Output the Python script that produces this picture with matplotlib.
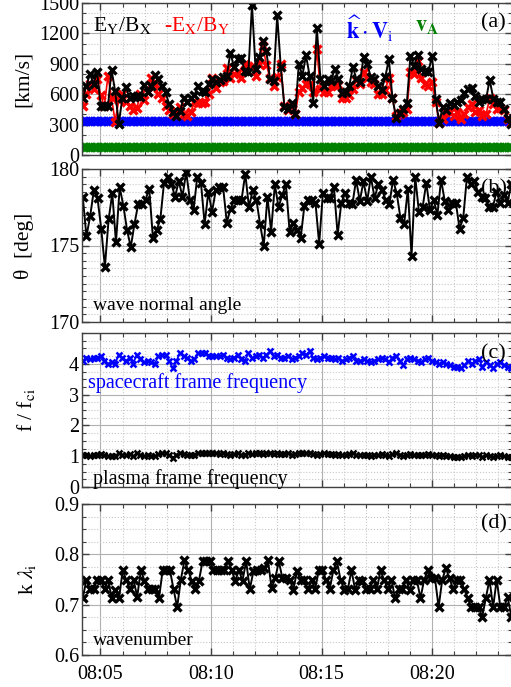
import matplotlib
matplotlib.use("Agg")
import matplotlib.pyplot as plt
import matplotlib.dates as mdates
import numpy as np
from datetime import datetime, timedelta

plt.rcParams['font.family'] = ['Liberation Serif', 'DejaVu Serif']
plt.rcParams['mathtext.fontset'] = 'stix'

# time range of the event (arbitrary day)
t_start = datetime(2017, 1, 1, 8, 4, 12)
t_end = datetime(2017, 1, 1, 8, 23, 35)
x_min = datetime(2017, 1, 1, 8, 4, 10)
x_max = datetime(2017, 1, 1, 8, 23, 37)

# panel (a): phase speeds [km/s]
ey_bx = [560, 680, 800, 700, 820, 480, 480, 480, 840, 630,
         310, 560, 670, 560, 580, 580, 570, 690, 620, 680,
         790, 750, 680, 620, 500, 420, 380, 430, 560, 520,
         560, 590, 680, 630, 620, 700, 750, 720, 740, 770,
         780, 1010, 870, 950, 960, 830, 820, 1480,
         850, 967, 1123, 1023, 750, 733, 1377, 867, 477, 450,
         517, 400, 900, 783, 983, 783, 517, 1257, 750, 677,
         750, 733, 850, 750, 610, 617, 677, 867, 750, 723,
         967, 900, 767, 750, 683, 643, 767, 943, 567, 367,
         417, 450, 510, 977, 883, 983, 850, 833, 823, 977,
         557, 317, 477, 443, 510, 490, 523, 543, 610, 650,
         657, 583, 523, 550, 550, 743, 557, 523, 523, 450,
         367, 310]
ex_by = [480, 600, 700, 650, 750, 590, 480, 780, 560, 330,
         540, 600, 520, 480, 440, 460, 600, 540, 620, 760,
         700, 600, 560, 480, 440, 400, 430, 470, 400, 380,
         420, 520, 510, 510, 520, 600, 760, 660, 720, 730,
         860, 760, 800, 820, 760, 900, 880, 870,
         780, 900, 1080, 890, 760, 680, 770, 900, 480, 440,
         500, 400, 620, 660, 700, 700, 620, 1050, 650, 620,
         620, 680, 690, 690, 560, 560, 590, 650, 740, 700,
         820, 760, 720, 700, 600, 600, 640, 760, 560, 380,
         400, 420, 450, 820, 800, 930, 760, 700, 680, 720,
         520, 320, 360, 420, 420, 380, 420, 360, 400, 470,
         500, 420, 440, 380, 400, 560, 500, 450, 460, 440,
         360, 320]
k_vi = 340.0
v_a = 75.0

# panel (b): wave normal angle [deg]
theta = [178.2, 175.6, 176.9, 178.6, 178.1, 176.1, 173.6, 176.7, 178.4, 175.2,
         178.8, 177.6, 176.0, 174.9, 176.4, 177.7, 177.7, 178.0, 178.7, 175.5,
         176.0, 176.7, 179.1, 179.5, 179.0, 178.2, 179.2, 178.2, 179.8, 178.0,
         177.3, 179.5, 179.1, 176.4, 178.5, 177.2, 178.6, 178.8, 178.8, 176.5,
         177.4, 178.0, 178.0, 178.0, 179.7, 177.5, 178.6, 178.0, 176.4,
         175.0, 178.2, 175.9, 179.0, 177.5, 178.3, 179.0, 175.9, 176.5, 176.0,
         175.5, 177.6, 178.0, 178.0, 177.8, 175.1, 178.4, 178.1, 178.1, 178.8,
         175.7, 177.8, 178.4, 177.8, 177.7, 179.3, 177.9, 179.2, 177.9, 179.5,
         178.1, 179.0, 178.6, 178.0, 177.7, 179.3, 178.4, 176.8, 176.4, 178.7,
         174.3, 179.5, 177.2, 177.5, 179.1, 177.3, 178.0, 177.0, 179.3, 177.9,
         177.3, 177.8, 177.8, 176.1, 176.8, 179.5, 179.0, 179.2, 178.5, 178.2,
         178.1, 177.5, 177.5, 178.5, 177.8, 178.3, 177.8, 179.0]

# panel (c): frequencies normalised to f_ci
f_sc = [4.10, 4.20, 4.15, 4.20, 4.20, 4.25, 4.10, 4.00, 4.05, 4.00,
        4.30, 4.20, 4.10, 4.20, 4.00, 4.30, 4.15, 4.05, 4.10, 4.05,
        4.00, 4.25, 4.30, 4.30, 4.10, 3.85, 4.10, 4.35, 4.25, 4.20,
        4.10, 4.15, 4.35, 4.35, 4.35, 4.25, 4.25, 4.25, 4.25, 4.30,
        4.20, 4.15, 4.20, 4.30, 4.15, 4.10, 4.35, 4.20, 4.25,
        4.30, 4.20, 4.30, 4.40, 4.25, 4.30, 4.20, 4.20, 4.25, 4.15,
        4.20, 4.25, 4.35, 4.30, 4.40, 4.20, 4.15, 4.20, 4.25, 4.20,
        4.20, 4.15, 4.20, 4.10, 4.15, 4.20, 4.25, 4.10, 4.10, 4.15,
        4.10, 4.05, 4.10, 4.15, 4.20, 4.15, 4.05, 4.20, 4.25, 4.10,
        3.95, 4.15, 4.20, 4.15, 4.10, 4.05, 4.15, 4.20, 4.10, 4.05,
        4.00, 4.05, 4.00, 3.95, 3.90, 3.90, 3.85, 3.95, 4.10, 4.00,
        4.10, 4.15, 3.90, 4.05, 3.95, 3.85, 4.00, 4.05, 3.95, 3.90,
        3.85]
f_pl = [1.05, 1.05, 1.02, 1.05, 1.05, 1.08, 1.03, 1.00, 1.02, 1.00,
        1.10, 1.05, 1.05, 1.08, 1.00, 1.10, 1.05, 1.02, 1.03, 1.02,
        1.00, 1.08, 1.10, 1.10, 1.03, 0.95, 1.05, 1.12, 1.08, 1.05,
        1.03, 1.05, 1.12, 1.12, 1.12, 1.10, 1.10, 1.10, 1.08, 1.10,
        1.08, 1.05, 1.08, 1.12, 1.05, 1.05, 1.12, 1.08, 1.10,
        1.10, 1.08, 1.10, 1.12, 1.08, 1.10, 1.08, 1.08, 1.10, 1.05,
        1.08, 1.10, 1.12, 1.10, 1.12, 1.08, 1.05, 1.08, 1.10, 1.08,
        1.08, 1.05, 1.08, 1.05, 1.05, 1.08, 1.10, 1.05, 1.05, 1.05,
        1.05, 1.02, 1.05, 1.05, 1.08, 1.05, 1.02, 1.08, 1.10, 1.05,
        1.00, 1.05, 1.08, 1.05, 1.05, 1.03, 1.05, 1.08, 1.05, 1.03,
        1.02, 1.03, 1.02, 1.00, 0.98, 0.98, 0.97, 1.00, 1.05, 1.02,
        1.05, 1.05, 0.98, 1.03, 1.00, 0.98, 1.02, 1.03, 1.00, 0.98,
        0.97]

# panel (d): wavenumber k*lambda_i
k_lam = [0.713, 0.749, 0.731, 0.731, 0.749, 0.749, 0.731, 0.749, 0.713, 0.730,
         0.713, 0.768, 0.749, 0.731, 0.749, 0.716, 0.768, 0.748, 0.731, 0.731,
         0.731, 0.713, 0.768, 0.769, 0.769, 0.731, 0.695, 0.749, 0.788, 0.769,
         0.748, 0.731, 0.748, 0.786, 0.786, 0.786, 0.768, 0.768, 0.768, 0.768,
         0.786, 0.768, 0.748, 0.768, 0.748, 0.786, 0.731, 0.766,
         0.769, 0.769, 0.772, 0.788, 0.733, 0.752, 0.786, 0.752, 0.752, 0.749,
         0.730, 0.766, 0.749, 0.749, 0.731, 0.749, 0.731, 0.768, 0.768, 0.749,
         0.731, 0.768, 0.786, 0.749, 0.730, 0.731, 0.768, 0.730, 0.749, 0.748,
         0.731, 0.731, 0.749, 0.731, 0.768, 0.749, 0.731, 0.750, 0.713, 0.731,
         0.731, 0.749, 0.730, 0.749, 0.749, 0.713, 0.749, 0.768, 0.752, 0.752,
         0.695, 0.750, 0.772, 0.752, 0.731, 0.750, 0.750, 0.731, 0.713, 0.695,
         0.695, 0.695, 0.676, 0.713, 0.750, 0.695, 0.750, 0.695, 0.695, 0.716,
         0.676]


def times_for(values):
    n = len(values)
    step = (t_end - t_start) / (n - 1)
    return [t_start + i * step for i in range(n)]


spine_col = '#404040'
grid_col = '#b0b0b0'


def style_axis(ax, ymin, ymax, major, minor):
    ax.set_xlim(x_min, x_max)
    ax.set_ylim(ymin, ymax)
    ax.xaxis.set_major_locator(mdates.MinuteLocator(byminute=range(0, 60, 5)))
    ax.xaxis.set_minor_locator(mdates.MinuteLocator())
    ax.xaxis.set_major_formatter(mdates.DateFormatter('%H:%M'))
    ax.yaxis.set_major_locator(plt.MultipleLocator(major))
    ax.yaxis.set_minor_locator(plt.MultipleLocator(minor))
    ax.tick_params(which='both', direction='in', top=True, right=True,
                   labelsize=14.5, colors=spine_col, labelcolor='black')
    ax.tick_params(axis='y', pad=2)
    ax.tick_params(axis='x', pad=7)
    ax.tick_params(which='major', length=5, width=1)
    ax.tick_params(which='minor', length=3, width=0.8)
    ax.grid(which='major', color=grid_col, linestyle='-', linewidth=0.8)
    ax.grid(which='minor', color='#c8c8c8', linestyle=':', linewidth=0.8)
    ax.set_axisbelow(True)
    for s in ax.spines.values():
        s.set_color(spine_col)
        s.set_linewidth(1.0)


fig = plt.figure(figsize=(5.11, 6.87), dpi=100)
left = 82 / 511
width = 430 / 511
boxes = [(3, 155), (169, 322), (333, 487), (504, 655)]
axes = []
for top, bot in boxes:
    axes.append(fig.add_axes([left, 1 - bot / 687, width, (bot - top) / 687]))
ax_a, ax_b, ax_c, ax_d = axes

mk = dict(marker='x', ms=6, mew=2.4)

# (a)
ta = times_for(ey_bx)
ax_a.plot(ta, [k_vi] * len(ta), color='blue', lw=1.5, **mk)
ax_a.plot(ta, [v_a] * len(ta), color='green', lw=1.5, **mk)
ax_a.plot(times_for(ex_by), ex_by, color='red', lw=1.2, **mk)
ax_a.plot(ta, ey_bx, color='black', lw=1.4, **mk)
style_axis(ax_a, 0, 1500, 300, 100)
ax_a.set_ylabel('[km/s]', fontsize=15.5)
ax_a.text(0.025, 0.92, r'E$_\mathrm{Y}$/B$_\mathrm{X}$', transform=ax_a.transAxes,
          fontsize=15.5, va='top', ha='left')
ax_a.text(0.19, 0.92, r'-E$_\mathrm{X}$/B$_\mathrm{Y}$', transform=ax_a.transAxes,
          fontsize=15.5, va='top', ha='left', color='red')
ax_a.text(0.615, 0.93, r'$\widehat{\mathbf{k}}\cdot\mathbf{V}_\mathrm{i}$',
          transform=ax_a.transAxes, fontsize=16, va='top', ha='left', color='blue')
ax_a.text(0.775, 0.905, r'$\mathbf{v}_\mathbf{A}$', transform=ax_a.transAxes,
          fontsize=16, va='top', ha='left', color='green')
ax_a.text(0.928, 0.93, '(a)', transform=ax_a.transAxes, fontsize=16, va='top', ha='left')
ax_a.set_xticklabels([])

# (b)
ax_b.plot(times_for(theta), theta, color='black', lw=1.4, **mk)
style_axis(ax_b, 170, 180, 5, 0.5)
ax_b.set_ylabel('θ  [deg]', fontsize=15.5)
ax_b.text(0.025, 0.05, 'wave normal angle', transform=ax_b.transAxes,
          fontsize=14, va='bottom', ha='left')
ax_b.text(0.928, 0.93, '(b)', transform=ax_b.transAxes, fontsize=16, va='top', ha='left')
ax_b.set_xticklabels([])

# (c)
ax_c.plot(times_for(f_sc), f_sc, color='blue', marker='x', ms=4.5, mew=1.8, lw=1.2)
ax_c.plot(times_for(f_pl), f_pl, color='black', marker='x', ms=4.5, mew=1.8, lw=1.2)
style_axis(ax_c, 0, 5, 1, 0.25)
ax_c.set_yticks([0, 1, 2, 3, 4])
ax_c.set_ylabel(r'f / f$_\mathrm{ci}$', fontsize=15.5)
ax_c.text(0.013, 0.61, 'spacecraft frame frequency', transform=ax_c.transAxes,
          fontsize=14.5, va='bottom', ha='left', color='blue')
ax_c.text(0.025, -0.015, 'plasma frame frequency', transform=ax_c.transAxes,
          fontsize=14.5, va='bottom', ha='left')
ax_c.text(0.928, 0.93, '(c)', transform=ax_c.transAxes, fontsize=16, va='top', ha='left')
ax_c.set_xticklabels([])

# (d)
ax_d.plot(times_for(k_lam), k_lam, color='black', lw=1.4, **mk)
style_axis(ax_d, 0.6, 0.9, 0.1, 0.025)
ax_d.set_ylabel(r'k $\lambda_\mathrm{i}$', fontsize=15.5)
ax_d.text(0.025, 0.04, 'wavenumber', transform=ax_d.transAxes,
          fontsize=14, va='bottom', ha='left')
ax_d.text(0.928, 0.93, '(d)', transform=ax_d.transAxes, fontsize=16, va='top', ha='left')

label_x = [-0.114, -0.112, -0.105, -0.102]
for ax, lx in zip(axes, label_x):
    ax.yaxis.set_label_coords(lx, 0.5)

fig.savefig('out.png', dpi=100)
